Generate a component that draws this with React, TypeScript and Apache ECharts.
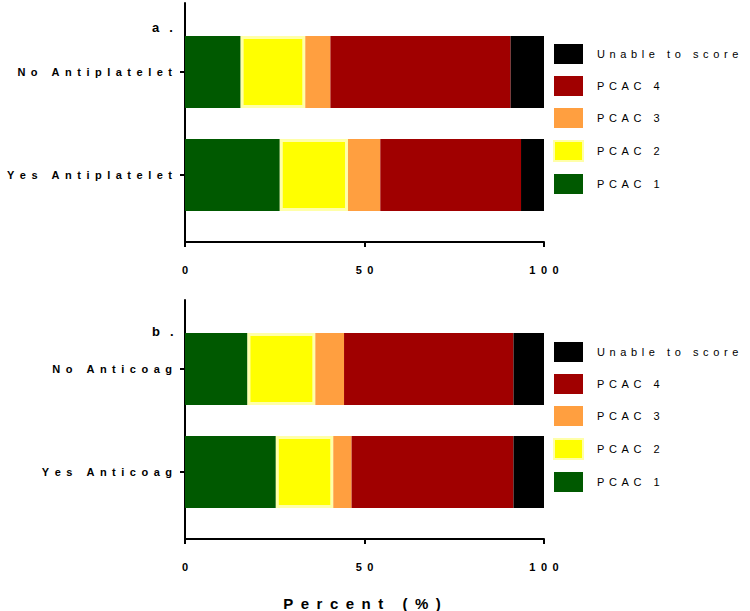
import React, { useEffect, useRef } from 'react';
import * as echarts from 'echarts';

const seriesNames = ['PCAC 1', 'PCAC 2', 'PCAC 3', 'PCAC 4', 'Unable to score'];
const legendOrder = ['Unable to score', 'PCAC 4', 'PCAC 3', 'PCAC 2', 'PCAC 1'];
const colors = ['#005900', '#ffff00', '#ff9f40', '#a00000', '#000000'];

const categoriesA = ['No Antiplatelet', 'Yes Antiplatelet'];
const categoriesB = ['No Anticoag', 'Yes Anticoag'];

// values per series: [No, Yes]
const pcac1A = [15.5, 26.4];
const pcac2A = [18.0, 19.0];
const pcac3A = [7.0, 9.0];
const pcac4A = [50.2, 39.2];
const unableA = [9.3, 6.4];

const pcac1B = [17.4, 25.3];
const pcac2B = [18.9, 16.0];
const pcac3B = [8.0, 5.1];
const pcac4B = [47.2, 45.1];
const unableB = [8.5, 8.5];

const xTicks = [0, 50, 100];
const panelLabels = ['a .', 'b .'];
const xTitle = 'Percent (%)';

const FONT = '"Liberation Sans", Arial, sans-serif';
const spaced = (s: string, sep = '\u2002') => Array.from(s).join(sep);

export default function App() {
  const ref = useRef<HTMLDivElement>(null);
  useEffect(() => {
    document.body.style.margin = '0';
    if (!ref.current) return;
    const chart = echarts.init(ref.current, undefined, { renderer: 'svg' });

    const left = 185;
    const width = 359;
    const frames = [
      { top: 3, height: 239, barTop: 20.5 },
      { top: 300, height: 239, barTop: 317.5 },
    ];
    const cats = [categoriesA, categoriesB];
    const vals = [
      [pcac1A, pcac2A, pcac3A, pcac4A, unableA],
      [pcac1B, pcac2B, pcac3B, pcac4B, unableB],
    ];

    const grid: any[] = [];
    const xAxis: any[] = [];
    const yAxis: any[] = [];
    const series: any[] = [];

    frames.forEach((f, p) => {
      const gFrame = grid.length;
      grid.push({ left, width, top: f.top, height: f.height });
      const gBar = grid.length;
      grid.push({ left, width, top: f.barTop, height: 206 });

      xAxis.push({
        type: 'value', gridIndex: gFrame, min: xTicks[0], max: xTicks[xTicks.length - 1], interval: 50,
        axisLine: { show: true, onZero: false, lineStyle: { color: '#000', width: 2 } },
        axisTick: { show: true, length: 5, lineStyle: { color: '#000', width: 2 } },
        axisLabel: {
          margin: 22, color: '#000', fontFamily: FONT, fontWeight: 'bold', fontSize: 11,
          formatter: (v: number) => spaced(String(v)),
        },
        splitLine: { show: false },
      });
      xAxis.push({ type: 'value', gridIndex: gBar, min: 0, max: 100, show: false });

      yAxis.push({
        type: 'value', gridIndex: gFrame, min: 0, max: 1,
        axisLine: { show: true, onZero: false, lineStyle: { color: '#000', width: 2 } },
        axisTick: { show: false }, axisLabel: { show: false }, splitLine: { show: false },
      });
      yAxis.push({
        type: 'category', gridIndex: gBar, data: cats[p], inverse: true,
        axisLine: { show: false },
        axisTick: { show: true, length: 5, alignWithLabel: true, lineStyle: { color: '#000', width: 2 } },
        axisLabel: {
          margin: 13, color: '#000', fontFamily: FONT, fontWeight: 'bold', fontSize: 11,
          formatter: (v: string) => spaced(v),
        },
        splitLine: { show: false },
      });

      seriesNames.forEach((name, i) => {
        series.push({
          type: 'bar', name, stack: 'panel' + p,
          xAxisIndex: p * 2 + 1, yAxisIndex: p * 2 + 1,
          barWidth: 72,
          data: vals[p][i],
          itemStyle: i === 1
            ? { color: colors[i], borderColor: '#ffffa8', borderWidth: 3 }
            : { color: colors[i], borderColor: colors[i], borderWidth: 0 },
        });
      });
    });

    const legendCommon = {
      orient: 'vertical', left: 548, itemWidth: 29, itemHeight: 20, itemGap: 12,
      data: legendOrder, icon: 'rect', selectedMode: false,
      formatter: (n: string) => spaced(n, '\u2005\u200a\u200a'),
      textStyle: { color: '#000', fontFamily: FONT, fontSize: 11, padding: [0, 0, 0, 9] },
    };

    chart.setOption({
      animation: false,
      backgroundColor: '#fff',
      grid,
      xAxis,
      yAxis,
      series,
      legend: [
        { ...legendCommon, top: 39 },
        { ...legendCommon, top: 337 },
      ],
      graphic: [
        { type: 'text', left: 152, top: 21, style: { text: spaced(panelLabels[0], '\u2005'), fill: '#000', font: `bold 13px ${FONT}` } },
        { type: 'text', left: 152, top: 325, style: { text: spaced(panelLabels[1], '\u2005'), fill: '#000', font: `bold 13px ${FONT}` } },
        {
          type: 'text', x: 362, y: 603,
          style: { text: spaced(xTitle), fill: '#000', font: `bold 15px ${FONT}`, align: 'center', verticalAlign: 'middle' },
        },
      ],
    });
    return () => chart.dispose();
  }, []);
  return <div ref={ref} style={{ width: 750, height: 611 }} />;
}
